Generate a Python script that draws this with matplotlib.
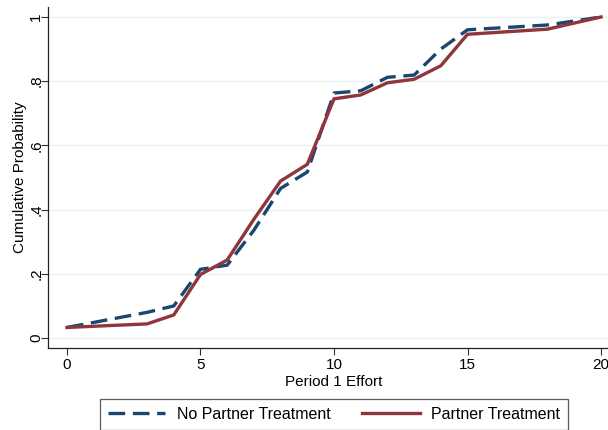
import matplotlib.pyplot as plt

plt.rcParams['font.family'] = ['Liberation Sans', 'DejaVu Sans']

# effort levels and cumulative shares
effort = [0, 3, 4, 5, 6, 7, 8, 9, 10, 11, 12, 13, 14, 15, 18, 20]
no_partner = [0.033, 0.08, 0.10, 0.214, 0.227, 0.336, 0.466, 0.517, 0.763, 0.77,
              0.812, 0.819, 0.90, 0.96, 0.975, 1.0]
partner = [0.033, 0.044, 0.072, 0.198, 0.243, 0.37, 0.489, 0.541, 0.745, 0.757,
           0.795, 0.806, 0.848, 0.946, 0.962, 1.0]

xticks = [0, 5, 10, 15, 20]
yticks = [0, 0.2, 0.4, 0.6, 0.8, 1.0]
ylabels = ['0', '.2', '.4', '.6', '.8', '1']

fig = plt.figure(figsize=(6.08, 4.30), dpi=100)
ax = fig.add_axes([48/608, 82/430, 572/608, 341/430])

ax.plot(effort, no_partner, color='#1a476f', lw=2.4, dashes=(5, 2.3),
        label='No Partner Treatment', zorder=3)
ax.plot(effort, partner, color='#90353b', lw=2.4, label='Partner Treatment', zorder=4)

ax.set_xlim(-0.71, 20.71)
ax.set_ylim(-0.031, 1.031)
ax.set_xticks(xticks)
ax.set_yticks(yticks)
ax.set_yticklabels(ylabels, rotation=90, va='center')
ax.tick_params(labelsize=11, length=5, width=0.8, color='#333333')
ax.tick_params(axis='y', pad=-1.5)
ax.tick_params(axis='x', pad=2)
ax.grid(axis='y', color='#eaf2f3', lw=1)
ax.set_axisbelow(True)
for s in ['top', 'right']:
    ax.spines[s].set_visible(False)
for s in ['left', 'bottom']:
    ax.spines[s].set_linewidth(0.9)
    ax.spines[s].set_color('#222222')

ax.set_xlabel('Period 1 Effort', fontsize=11, labelpad=2)
ax.set_ylabel('Cumulative Probability', fontsize=11)
ax.yaxis.set_label_coords(-0.037, 0.5)

leg = fig.legend(loc='upper center', bbox_to_anchor=(334/608, 1 - 399/430), ncol=2,
                 fontsize=11.5, frameon=True, fancybox=False, edgecolor='#333333',
                 handlelength=3.6, handletextpad=0.7, columnspacing=2.0,
                 borderpad=0.5, borderaxespad=0)
leg.get_frame().set_linewidth(0.9)

fig.savefig('out.png', dpi=100)
